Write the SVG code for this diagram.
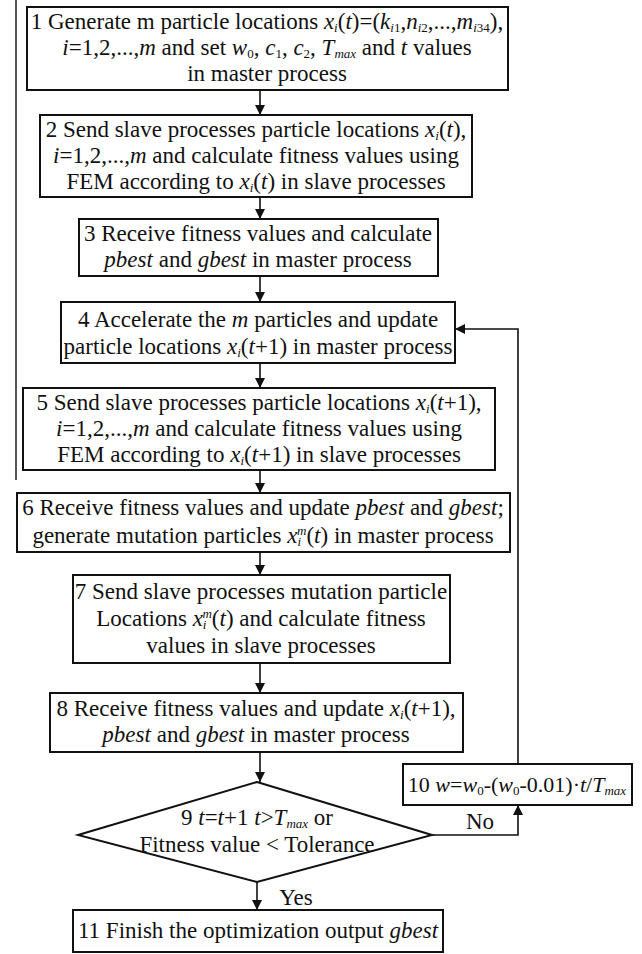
<svg xmlns="http://www.w3.org/2000/svg" width="642" height="954" viewBox="0 0 642 954">
<defs>
<marker id="ah" viewBox="0 0 10 10" refX="10" refY="5" markerWidth="10" markerHeight="12" markerUnits="userSpaceOnUse" orient="auto">
<path d="M0,0 L10,5 L0,10 z" fill="#111"/>
</marker>
<style>
.b{fill:#fff;stroke:#111;stroke-width:2}
.t{font-family:'Liberation Serif','DejaVu Serif','Times New Roman',serif;font-size:23px;fill:#111;text-anchor:middle}
.s22{font-size:22px}
.i{font-style:italic}
.sb{font-size:13px;baseline-shift:-3px}
.sp{font-size:13px;baseline-shift:8px}
.c{fill:none;stroke:#111;stroke-width:1.6}
</style>
</defs>
<rect width="642" height="954" fill="#fff"/>
<line x1="16" y1="0" x2="16" y2="480" stroke="#555" stroke-width="2"/>

<g id="connectors" font-family="Liberation Serif, DejaVu Serif, serif">
<line class="c" x1="260" y1="90" x2="260" y2="115" marker-end="url(#ah)"/>
<line class="c" x1="260" y1="197" x2="260" y2="219" marker-end="url(#ah)"/>
<line class="c" x1="260" y1="276" x2="260" y2="302" marker-end="url(#ah)"/>
<line class="c" x1="260" y1="363" x2="260" y2="388" marker-end="url(#ah)"/>
<line class="c" x1="260" y1="470" x2="260" y2="493" marker-end="url(#ah)"/>
<line class="c" x1="260" y1="552" x2="260" y2="575" marker-end="url(#ah)"/>
<line class="c" x1="260" y1="663" x2="260" y2="693" marker-end="url(#ah)"/>
<line class="c" x1="260" y1="752" x2="260" y2="782" marker-end="url(#ah)"/>
<line class="c" x1="257" y1="882" x2="257" y2="910" marker-end="url(#ah)"/>
<polyline class="c" points="432,835 518,835 518,805" marker-end="url(#ah)"/>
<polyline class="c" points="518,764 518,329 455,329" marker-end="url(#ah)"/>
<text class="t" x="480" y="829">No</text>
<text class="t" x="296" y="905">Yes</text>
</g>

<g id="n1" font-family="Liberation Serif, DejaVu Serif, serif">
<rect class="b" x="27" y="7" width="481" height="83"/>
<text class="t" x="267" y="29">1 Generate m particle locations <tspan class="i">x</tspan><tspan class="sb i">i</tspan>(<tspan class="i">t</tspan>)=(<tspan class="i">k</tspan><tspan class="sb i">i</tspan><tspan class="sb">1</tspan>,<tspan class="i">n</tspan><tspan class="sb i">i</tspan><tspan class="sb">2</tspan>,...,<tspan class="i">m</tspan><tspan class="sb i">i</tspan><tspan class="sb">34</tspan>),</text>
<text class="t" x="267" y="55"><tspan class="i">i</tspan>=1,2,...,<tspan class="i">m</tspan> and set <tspan class="i">w</tspan><tspan class="sb">0</tspan>, <tspan class="i">c</tspan><tspan class="sb">1</tspan>, <tspan class="i">c</tspan><tspan class="sb">2</tspan>, <tspan class="i">T</tspan><tspan class="sb i">max</tspan> and <tspan class="i">t</tspan> values</text>
<text class="t" x="267" y="81">in master process</text>
</g>

<g id="n2" font-family="Liberation Serif, DejaVu Serif, serif">
<rect class="b" x="40" y="115" width="432" height="82"/>
<text class="t" x="256" y="137">2 Send slave processes particle locations <tspan class="i">x</tspan><tspan class="sb i">i</tspan>(<tspan class="i">t</tspan>),</text>
<text class="t" x="256" y="163"><tspan class="i">i</tspan>=1,2,...,<tspan class="i">m</tspan> and calculate fitness values using</text>
<text class="t" x="256" y="189">FEM according to <tspan class="i">x</tspan><tspan class="sb i">i</tspan>(<tspan class="i">t</tspan>)  in slave processes</text>
</g>

<g id="n3" font-family="Liberation Serif, DejaVu Serif, serif">
<rect class="b" x="79" y="219" width="359" height="57"/>
<text class="t" x="258" y="241">3 Receive fitness values and calculate</text>
<text class="t" x="258" y="267"><tspan class="i">pbest</tspan> and <tspan class="i">gbest</tspan>  in master process</text>
</g>

<g id="n4" font-family="Liberation Serif, DejaVu Serif, serif">
<rect class="b" x="61" y="302" width="394" height="61"/>
<text class="t" x="258" y="327">4 Accelerate the <tspan class="i">m</tspan> particles and  update</text>
<text class="t" x="258" y="354">particle locations <tspan class="i">x</tspan><tspan class="sb i">i</tspan>(<tspan class="i">t</tspan>+1) in master process</text>
</g>

<g id="n5" font-family="Liberation Serif, DejaVu Serif, serif">
<rect class="b" x="23" y="388" width="472" height="82"/>
<text class="t" x="259" y="410">5 Send slave processes particle locations <tspan class="i">x</tspan><tspan class="sb i">i</tspan>(<tspan class="i">t</tspan>+1),</text>
<text class="t" x="259" y="436"><tspan class="i">i</tspan>=1,2,...,<tspan class="i">m</tspan> and calculate fitness values using</text>
<text class="t" x="259" y="462">FEM according to <tspan class="i">x</tspan><tspan class="sb i">i</tspan>(<tspan class="i">t</tspan>+1)  in slave processes</text>
</g>

<g id="n6" font-family="Liberation Serif, DejaVu Serif, serif">
<rect class="b" x="17" y="493" width="493" height="59"/>
<text class="t" x="263" y="515">6 Receive fitness values and update <tspan class="i">pbest</tspan> and <tspan class="i">gbest</tspan>;</text>
<text class="t" x="263" y="543">generate mutation particles <tspan class="i">x</tspan><tspan class="sb i">i</tspan><tspan class="sp i" dx="-4">m</tspan>(<tspan class="i">t</tspan>)  in master process</text>
</g>

<g id="n7" font-family="Liberation Serif, DejaVu Serif, serif">
<rect class="b" x="73" y="575" width="377" height="88"/>
<text class="t" x="261" y="599">7 Send slave processes mutation particle</text>
<text class="t" x="261" y="626">Locations <tspan class="i">x</tspan><tspan class="sb i">i</tspan><tspan class="sp i" dx="-4">m</tspan>(<tspan class="i">t</tspan>) and  calculate fitness</text>
<text class="t" x="261" y="653">values in slave processes</text>
</g>

<g id="n8" font-family="Liberation Serif, DejaVu Serif, serif">
<rect class="b" x="50" y="693" width="413" height="59"/>
<text class="t" x="256" y="716">8 Receive fitness values and update  <tspan class="i">x</tspan><tspan class="sb i">i</tspan>(<tspan class="i">t</tspan>+1),</text>
<text class="t" x="256" y="742"><tspan class="i">pbest</tspan> and <tspan class="i">gbest</tspan>  in master process</text>
</g>

<g id="n9" font-family="Liberation Serif, DejaVu Serif, serif">
<polygon class="b" points="257,782 432,835 257,882 78,835"/>
<text class="t" x="257" y="825">9  <tspan class="i">t</tspan>=<tspan class="i">t</tspan>+1  <tspan class="i">t</tspan>&gt;<tspan class="i">T</tspan><tspan class="sb i">max</tspan> or</text>
<text class="t" x="257" y="852">Fitness value &lt; Tolerance</text>
</g>

<g id="n10" font-family="Liberation Serif, DejaVu Serif, serif">
<rect class="b" x="403" y="764" width="229" height="41"/>
<text class="t s22" x="517" y="792">10 <tspan class="i">w</tspan>=<tspan class="i">w</tspan><tspan class="sb">0</tspan>-(<tspan class="i">w</tspan><tspan class="sb">0</tspan>-0.01)·<tspan class="i">t</tspan>/<tspan class="i">T</tspan><tspan class="sb i">max</tspan></text>
</g>

<g id="n11" font-family="Liberation Serif, DejaVu Serif, serif">
<rect class="b" x="73" y="910" width="370" height="42"/>
<text class="t" x="258" y="938">11 Finish the optimization output <tspan class="i">gbest</tspan></text>
</g>
</svg>
